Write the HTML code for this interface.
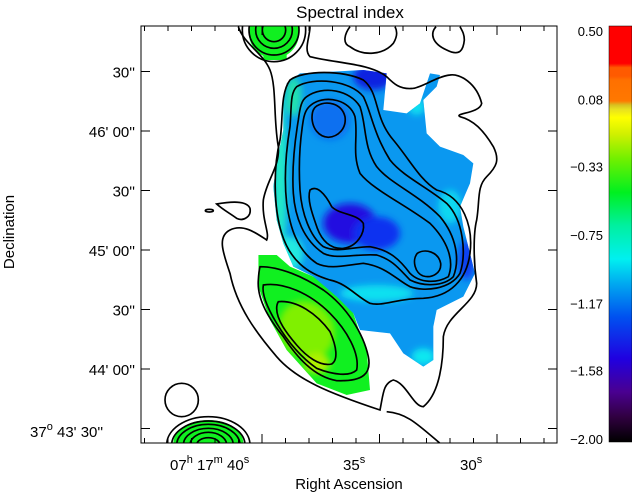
<!DOCTYPE html>
<html><head><meta charset="utf-8"><style>
html,body{margin:0;padding:0;background:#fff;}
svg text{font-family:"Liberation Sans",sans-serif;fill:#000;}
</style></head><body>
<svg width="632" height="495" viewBox="0 0 632 495" xmlns="http://www.w3.org/2000/svg">
<defs>
<filter id="bl" x="-20%" y="-20%" width="140%" height="140%"><feGaussianBlur stdDeviation="10"/></filter>
<clipPath id="pc"><rect x="141" y="26" width="416" height="417"/></clipPath>
<clipPath id="mainClip"><path d="M470,190 L510,160 L700,150 L770,160 L760,270 L830,280 L870,250 L900,160 L930,165 L920,200 L880,240 L890,340 L930,380 L1000,405 L1030,430 L1020,490 L990,560 L1000,620 L1020,700 L1035,760 L1000,830 L920,870 L910,920 L910,1020 L880,1040 L820,1000 L780,940 L690,930 L670,880 L600,830 L550,770 L490,740 L460,670 L440,600 L430,500 L440,430 L460,330 L460,250 Z"/></clipPath>
<clipPath id="greenClip"><path d="M385,705 L440,705 L480,740 L550,770 L620,830 L670,880 L690,940 L710,990 L720,1110 L650,1125 L560,1090 L470,990 L420,900 L385,800 Z"/></clipPath>
<linearGradient id="cb" x1="0" y1="1" x2="0" y2="0">
<stop offset="0" stop-color="#000000"/>
<stop offset="0.06" stop-color="#300040"/>
<stop offset="0.12" stop-color="#4a0090"/>
<stop offset="0.2" stop-color="#2000e0"/>
<stop offset="0.3" stop-color="#0050f0"/>
<stop offset="0.38" stop-color="#00a8f0"/>
<stop offset="0.44" stop-color="#00f0f0"/>
<stop offset="0.52" stop-color="#00f0a0"/>
<stop offset="0.6" stop-color="#00f020"/>
<stop offset="0.68" stop-color="#70f000"/>
<stop offset="0.74" stop-color="#d0f000"/>
<stop offset="0.78" stop-color="#ffff00"/>
<stop offset="0.8" stop-color="#e8e020"/>
<stop offset="0.81" stop-color="#d8c020"/>
<stop offset="0.82" stop-color="#ff7800"/>
<stop offset="0.87" stop-color="#ff7000"/>
<stop offset="0.88" stop-color="#ff5a00"/>
<stop offset="0.9" stop-color="#ff5a00"/>
<stop offset="0.91" stop-color="#ff0000"/>
<stop offset="1" stop-color="#ff0000"/>
</linearGradient>
</defs>

<text x="350" y="18" font-size="17" text-anchor="middle">Spectral index</text>

<g clip-path="url(#pc)">
 <g transform="translate(130,20) scale(0.3333333)">
  <g clip-path="url(#mainClip)">
   <rect x="400" y="140" width="660" height="920" fill="#0a98f0"/>
   <g filter="url(#bl)">
    <ellipse cx="450" cy="470" rx="22" ry="240" fill="#20e8c8"/>
    <ellipse cx="490" cy="230" rx="25" ry="60" fill="#20e0b0"/>
    <ellipse cx="480" cy="700" rx="40" ry="50" fill="#20e8e0"/>
    <ellipse cx="660" cy="610" rx="80" ry="60" fill="#2010e0"/>
    <ellipse cx="740" cy="640" rx="70" ry="50" fill="#1030f0"/>
    <ellipse cx="730" cy="170" rx="60" ry="40" fill="#1020e0"/>
    <ellipse cx="1010" cy="720" rx="25" ry="60" fill="#1040f0"/>
    <ellipse cx="960" cy="560" rx="35" ry="50" fill="#10d8f0"/>
    <ellipse cx="740" cy="820" rx="110" ry="25" fill="#10e0f0"/>
    <ellipse cx="880" cy="1010" rx="35" ry="25" fill="#10e8f0"/>
    <ellipse cx="860" cy="260" rx="25" ry="25" fill="#10e0f0"/>
    <ellipse cx="600" cy="300" rx="60" ry="60" fill="#1070f0"/>
   </g>
  </g>
  <g clip-path="url(#greenClip)">
   <rect x="380" y="700" width="350" height="430" fill="#10f020"/>
   <g filter="url(#bl)">
    <ellipse cx="530" cy="930" rx="80" ry="90" fill="#80f000" transform="rotate(-35 530 930)"/>
    <ellipse cx="560" cy="1030" rx="40" ry="30" fill="#b0f000"/>
   </g>
  </g>
  <circle cx="432" cy="40" r="75" fill="#10f020"/>
  <rect x="400" y="60" width="70" height="60" fill="#10f020"/>
  <ellipse cx="235" cy="1270" rx="105" ry="70" fill="#10f020"/>

  <g fill="none" stroke="#000" stroke-width="5">
   <path d="M325,20 C340,70 400,100 420,150 C440,200 430,300 445,380 C450,440 410,480 400,540 C395,600 420,640 410,660 C380,640 340,610 300,630 C260,650 280,700 300,760 C320,860 380,940 440,1010 C500,1080 600,1120 750,1170 C760,1120 760,1090 790,1080 C830,1090 850,1160 880,1160 C930,1120 940,1020 940,950 C950,880 1040,850 1040,790 C1030,720 1030,640 1040,600 C1050,540 1040,500 1070,470 C1100,440 1110,420 1090,380 C1060,330 1030,300 990,290 C970,280 1050,280 1055,250 C1040,190 990,160 960,165 C920,170 880,200 850,205 C810,210 790,190 770,170 C720,130 620,130 540,110 C520,90 540,50 540,20"/>
   <path d="M660,20 C645,40 635,70 660,80 C700,110 760,105 790,70 C805,45 800,30 795,20"/>
   <path d="M918,20 C900,40 905,70 950,90 C990,110 1000,90 1003,60 C1003,40 995,30 990,20"/>
   <path d="M770,1175 C830,1180 860,1210 930,1270"/>
   <circle cx="155" cy="1140" r="50"/>
   <path d="M260,552 C300,545 350,540 360,565 C365,590 340,605 320,595 C300,580 280,570 260,552 Z"/>
   <ellipse cx="238" cy="572" rx="12" ry="4"/>
   <circle cx="432" cy="30" r="95"/>
   <circle cx="432" cy="30" r="75"/>
   <circle cx="432" cy="30" r="55"/>
   <circle cx="432" cy="30" r="35"/>
   <ellipse cx="235" cy="1275" rx="125" ry="85"/>
   <ellipse cx="235" cy="1275" rx="110" ry="72"/>
   <ellipse cx="235" cy="1275" rx="95" ry="62"/>
   <ellipse cx="235" cy="1275" rx="75" ry="50"/>
   <ellipse cx="235" cy="1275" rx="55" ry="38"/>
   <ellipse cx="235" cy="1275" rx="35" ry="22"/>
   <path d="M480,180 C520,150 640,150 700,180 C750,220 730,290 790,360 C840,420 870,480 920,510 C1000,530 1030,620 1020,700 C1010,780 960,830 880,835 C800,835 760,860 720,850 C680,830 650,790 600,780 C530,760 480,720 455,640 C430,560 430,440 450,360 C460,300 450,220 480,180 Z"/>
   <path d="M500,200 C550,170 660,180 700,230 C725,280 730,340 780,420 C820,470 890,500 950,550 C1000,600 1010,700 990,760 C960,810 880,815 840,800 C800,780 770,740 700,730 C650,735 600,750 560,730 C500,690 480,620 470,550 C460,460 470,380 480,320 C485,260 480,220 500,200 Z"/>
   <path d="M530,230 C580,195 660,210 690,260 C710,320 700,380 740,440 C780,490 860,520 930,590 C980,650 990,720 970,770 C940,800 880,800 840,780 C810,750 790,720 740,705 C680,700 620,720 580,700 C520,660 495,590 490,520 C485,440 495,360 505,300 C510,260 515,240 530,230 Z"/>
   <path d="M550,250 C590,225 660,240 675,290 C685,350 665,400 690,460 C730,510 820,550 900,610 C950,660 975,720 955,770 C920,790 870,790 840,760 C810,720 780,690 720,680 C670,680 620,700 580,680 C540,650 515,580 510,510 C505,430 510,360 520,300 C525,270 535,260 550,250 Z"/>
   <path d="M560,258 C590,240 635,250 645,290 C650,325 625,350 595,352 C565,350 548,325 546,295 C546,275 550,265 560,258 Z"/>
   <path d="M540,510 C560,495 585,520 605,560 C630,585 680,580 700,610 C705,640 680,680 640,685 C600,688 575,660 562,625 C550,590 530,540 540,510 Z"/>
   <path d="M862,700 C885,685 925,695 932,730 C935,760 905,775 880,768 C855,760 845,720 862,700 Z"/>
   <path d="M390,740 C450,740 520,770 580,810 C650,860 700,940 715,1010 C725,1060 700,1085 620,1082 C550,1070 500,1010 460,950 C420,900 380,840 385,780 C386,760 388,748 390,740 Z"/>
   <path d="M400,795 C460,785 540,820 600,880 C650,930 690,1000 680,1050 C660,1070 610,1065 560,1045 C510,1010 470,960 440,910 C410,860 395,820 400,795 Z"/>
   <path d="M445,845 C500,840 560,880 600,935 C620,980 625,1020 605,1032 C570,1040 530,1010 500,975 C470,940 440,900 440,865 C440,855 442,850 445,845 Z"/>
  </g>
 </g>
</g>

<rect x="141" y="26" width="416" height="417" stroke="#000" fill="none" stroke-width="1"/>
<g id="ticks" stroke="#000" stroke-width="1"></g>
<g id="ylabels"></g>

<text x="170" y="470" font-size="15">07<tspan dy="-7" font-size="11">h</tspan><tspan dy="7"> 17</tspan><tspan dy="-7" font-size="11">m</tspan><tspan dy="7"> 40</tspan><tspan dy="-7" font-size="11">s</tspan></text>
<text x="343" y="470" font-size="15">35<tspan dy="-7" font-size="11">s</tspan></text>
<text x="460" y="470" font-size="15">30<tspan dy="-7" font-size="11">s</tspan></text>
<text x="30" y="437" font-size="15">37<tspan dy="-7" font-size="11">o</tspan><tspan dy="7"> 43' 30''</tspan></text>
<text x="349" y="489" font-size="15" text-anchor="middle">Right Ascension</text>
<text transform="translate(14,232) rotate(-90)" font-size="15" text-anchor="middle">Declination</text>

<rect x="609" y="26" width="23" height="416" fill="url(#cb)" stroke="#000" stroke-width="0.5"/>
<g id="cblabels"></g>

<script>
const cbTicks = [0.50, 0.08, -0.33, -0.75, -1.17, -1.58, -2.00];
const cbMin = -2.0, cbMax = 0.5;
const yTickLabels = ["30''", "46' 00''", "30''", "45' 00''", "30''", "44' 00''", ""];
const yTickSeconds = [150, 120, 90, 60, 30, 0, -30];
const raSeconds = [40, 35, 30];
const NS = "http://www.w3.org/2000/svg";
function cbY(v){ return 439 - (v - cbMin) / (cbMax - cbMin) * 408; }
function decY(s){ return 369 - s * (59.5/30); }
function raX(s){ return 262 + (40 - s) * 23.5; }
const cbl = document.getElementById('cblabels');
cbTicks.forEach(v => {
  const t = document.createElementNS(NS, 'text');
  
  
  t.setAttribute('x', 603); t.setAttribute('y', cbY(v) + 5);
  t.setAttribute('font-size', '13'); t.setAttribute('text-anchor', 'end');
  t.textContent = (v < 0 ? '\u2212' + Math.abs(v).toFixed(2) : v.toFixed(2));
  cbl.appendChild(t);
});
const yl = document.getElementById('ylabels');
const tk = document.getElementById('ticks');
function line(x1,y1,x2,y2){
  const l = document.createElementNS(NS, 'line');
  
  
  l.setAttribute('x1',x1); l.setAttribute('y1',y1); l.setAttribute('x2',x2); l.setAttribute('y2',y2);
  tk.appendChild(l);
}
yTickSeconds.forEach((s,i) => {
  const y = decY(s);
  line(141, y, 150, y); line(548, y, 557, y);
  if (!yTickLabels[i]) return;
  const t = document.createElementNS(NS, 'text');
  
  
  t.setAttribute('x', 135); t.setAttribute('y', y + 6);
  t.setAttribute('font-size', '15'); t.setAttribute('text-anchor', 'end');
  t.textContent = yTickLabels[i];
  yl.appendChild(t);
});
for (let s = 45; s >= 25; s--) {
  const x = raX(s);
  if (x < 142 || x > 556) continue;
  const major = raSeconds.includes(s);
  const len = major ? 9 : 5;
  line(x, 26, x, 26 + len); line(x, 443, x, 443 - len);
}
</script>
</svg>
</body></html>
